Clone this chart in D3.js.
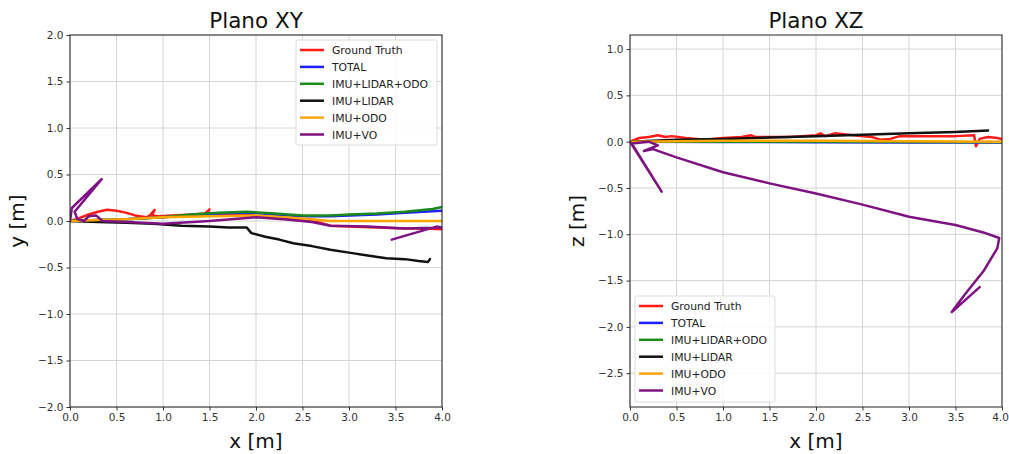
<!DOCTYPE html>
<html><head><meta charset="utf-8">
<script src="https://cdn.jsdelivr.net/npm/d3@7"></script>
<style>
body{margin:0;background:#fff;}
svg{display:block;font-family:"DejaVu Sans",sans-serif;}
</style></head><body>
<svg id="c" width="1009" height="454"></svg>
<script>
// ---- data ----
const seriesNames = ["Ground Truth","TOTAL","IMU+LIDAR+ODO","IMU+LIDAR","IMU+ODO","IMU+VO"];
const seriesColors = ["#ff1a1a","#1f1fff","#1a8a1a","#111111","#ffa500","#7e1283"];
const xTicks = [0,0.5,1,1.5,2,2.5,3,3.5,4];
const yTicksXY = [-2,-1.5,-1,-0.5,0,0.5,1,1.5,2];
const zTicksXZ = [-2.5,-2,-1.5,-1,-0.5,0,0.5,1];

// Plano XY (x, y)
const gtXY = [[0,0],[0.1,0.03],[0.2,0.07],[0.3,0.1],[0.4,0.12],[0.5,0.11],[0.6,0.09],[0.7,0.06],[0.82,0.04],[0.86,0.06],[0.91,0.12],[0.88,0.06],[0.95,0.05],[1.1,0.06],[1.3,0.07],[1.45,0.08],[1.5,0.125],[1.47,0.08],[1.7,0.07],[1.9,0.07],[2.0,0.05],[2.2,0.04],[2.5,0.01],[2.7,-0.02],[2.8,-0.05],[3.0,-0.06],[3.3,-0.07],[3.6,-0.08],[3.8,-0.08],[4.0,-0.09]];
const totalXY = [[0,0],[0.3,0.01],[0.6,0.02],[1.0,0.04],[1.3,0.06],[1.6,0.08],[1.9,0.09],[2.2,0.07],[2.5,0.05],[2.8,0.05],[3.0,0.06],[3.3,0.07],[3.6,0.09],[4.0,0.11]];
const lioXY = [[0,0],[0.3,0.01],[0.6,0.02],[1.0,0.04],[1.3,0.07],[1.6,0.09],[1.9,0.1],[2.2,0.08],[2.5,0.06],[2.8,0.06],[3.0,0.07],[3.3,0.08],[3.6,0.1],[3.9,0.13],[4.0,0.15]];
const lidarXY = [[0,0],[0.3,-0.01],[0.6,-0.02],[0.9,-0.03],[1.2,-0.05],[1.5,-0.06],[1.7,-0.07],[1.9,-0.07],[1.95,-0.13],[2.1,-0.17],[2.25,-0.2],[2.4,-0.24],[2.6,-0.27],[2.8,-0.31],[3.0,-0.34],[3.2,-0.37],[3.4,-0.4],[3.6,-0.41],[3.75,-0.43],[3.85,-0.44],[3.87,-0.41]];
const odoXY = [[0,0],[0.3,0.01],[0.6,0.02],[1.0,0.04],[1.5,0.05],[2.0,0.06],[2.3,0.04],[2.6,0.02],[2.8,0.0],[3.2,0.0],[4.0,0.0]];
const voXY = [[0,0],[0.02,0.14],[0.34,0.45],[0.05,0.1],[0.08,0.02],[0.15,0.0],[0.2,0.05],[0.28,0.06],[0.35,0.0],[0.6,-0.01],[1.0,-0.03],[1.5,0.0],[2.0,0.04],[2.3,0.02],[2.6,-0.01],[2.8,-0.05],[3.2,-0.06],[3.6,-0.08],[4.0,-0.07],[3.94,-0.06],[3.46,-0.2]];

// Plano XZ (x, z)
const gtXZ = [[0,0],[0.1,0.04],[0.2,0.05],[0.3,0.07],[0.38,0.05],[0.45,0.06],[0.6,0.04],[0.8,0.02],[1.0,0.04],[1.2,0.05],[1.3,0.07],[1.35,0.05],[1.5,0.05],[1.7,0.05],[1.85,0.06],[2.0,0.07],[2.05,0.09],[2.1,0.06],[2.2,0.09],[2.4,0.07],[2.6,0.05],[2.7,0.02],[2.8,0.03],[2.9,0.06],[3.2,0.06],[3.5,0.06],[3.7,0.07],[3.72,-0.05],[3.76,0.03],[3.85,0.05],[3.95,0.04],[4.0,0.03]];
const totalXZ = [[0,0],[1.0,-0.003],[2.0,-0.005],[3.0,-0.008],[4.0,-0.01]];
const lioXZ = [[0,0],[1.0,0.0],[2.0,-0.002],[3.0,-0.004],[4.0,-0.005]];
const lidarXZ = [[0,0],[0.5,0.02],[1.0,0.03],[1.5,0.045],[2.0,0.06],[2.5,0.075],[3.0,0.09],[3.5,0.105],[3.85,0.12]];
const odoXZ = [[0,0],[1.0,0.01],[2.0,0.01],[3.0,0.005],[4.0,0.0]];
const voXZ = [[0,0],[0.34,-0.54],[0.02,-0.02],[0.2,0.0],[0.3,-0.04],[0.15,-0.1],[0.25,-0.08],[0.3,-0.1],[0.5,-0.17],[1.0,-0.33],[1.5,-0.45],[2.0,-0.56],[2.5,-0.68],[3.0,-0.81],[3.5,-0.9],[3.8,-0.98],[3.97,-1.04],[3.95,-1.15],[3.8,-1.4],[3.6,-1.65],[3.46,-1.84],[3.76,-1.57]];

// ---- drawing ----
const svg = d3.select("#c");
const fmt = v => (v<0 ? "\u2212" : "") + Math.abs(v).toFixed(1);

function panel(cfg){
  const x = d3.scaleLinear().domain([0,4]).range([cfg.left, cfg.left+372]);
  const y = d3.scaleLinear().domain(cfg.ydom).range([407, 35]);
  const g = svg.append("g");
  // grid
  g.selectAll(".gx").data(xTicks).enter().append("line")
    .attr("x1",d=>x(d)).attr("x2",d=>x(d)).attr("y1",35).attr("y2",407)
    .attr("stroke","#d4d4d4").attr("stroke-width",1);
  g.selectAll(".gy").data(cfg.yticks).enter().append("line")
    .attr("y1",d=>y(d)).attr("y2",d=>y(d)).attr("x1",cfg.left).attr("x2",cfg.left+372)
    .attr("stroke","#d4d4d4").attr("stroke-width",1);
  // lines
  const clipId = "clip"+cfg.left;
  svg.append("clipPath").attr("id",clipId).append("rect")
    .attr("x",cfg.left).attr("y",35).attr("width",372).attr("height",372);
  const line = d3.line().x(d=>x(d[0])).y(d=>y(d[1]));
  const lg = g.append("g").attr("clip-path","url(#"+clipId+")");
  cfg.data.forEach((s,i)=>{
    lg.append("path").attr("d",line(s)).attr("fill","none")
      .attr("stroke",seriesColors[i]).attr("stroke-width",2.5)
      .attr("stroke-linejoin","round").attr("stroke-linecap","round");
  });
  // axes
  const xa = g.append("g").attr("transform","translate(0,407)")
    .call(d3.axisBottom(x).tickValues(xTicks).tickFormat(fmt).tickSize(3.5).tickPadding(3));
  const ya = g.append("g").attr("transform","translate("+cfg.left+",0)")
    .call(d3.axisLeft(y).tickValues(cfg.yticks).tickFormat(fmt).tickSize(3.5).tickPadding(3));
  [xa,ya].forEach(a=>{
    a.select(".domain").remove();
    a.selectAll("text").attr("font-size",10.5).attr("fill","#333").attr("font-family","DejaVu Sans");
    a.selectAll("line").attr("stroke","#333");
  });
  if (cfg.shiftLast) {
    xa.selectAll(".tick text").filter(d=>d===4).attr("dx",-cfg.shiftLast);
  }
  g.append("rect").attr("x",cfg.left).attr("y",35).attr("width",372).attr("height",372)
    .attr("fill","none").attr("stroke","#222").attr("stroke-width",1);
  // labels
  g.append("text").attr("x",cfg.left+186).attr("y",28).attr("text-anchor","middle")
    .attr("font-size",21.5).attr("fill","#111").text(cfg.title);
  g.append("text").attr("x",cfg.left+186).attr("y",448).attr("text-anchor","middle")
    .attr("font-size",20).attr("fill","#111").text("x [m]");
  g.append("text").attr("transform","translate("+(cfg.left-cfg.ylabOff)+",221) rotate(-90)")
    .attr("text-anchor","middle").attr("font-size",20).attr("fill","#111").text(cfg.ylabel);
  // legend
  const L = cfg.legend;
  const lgG = g.append("g");
  lgG.append("rect").attr("x",L.x).attr("y",L.y).attr("width",L.w).attr("height",L.h)
    .attr("fill","rgba(255,255,255,0.85)").attr("stroke","#ddd").attr("rx",2);
  seriesNames.forEach((n,i)=>{
    const yy = L.y+10+i*16.9;
    lgG.append("line").attr("x1",L.x+4).attr("x2",L.x+28).attr("y1",yy).attr("y2",yy)
      .attr("stroke",seriesColors[i]).attr("stroke-width",2.5);
    lgG.append("text").attr("x",L.x+36).attr("y",yy+4).attr("font-size",10.8)
      .attr("fill","#222").text(n);
  });
}

panel({left:70, ydom:[-2,2], yticks:yTicksXY, title:"Plano XY", ylabel:"y [m]", ylabOff:46,
  data:[gtXY,totalXY,lioXY,lidarXY,odoXY,voXY],
  legend:{x:296,y:40,w:141,h:105}});
panel({left:630, ydom:[-2.865,1.152], yticks:zTicksXZ, title:"Plano XZ", ylabel:"z [m]", ylabOff:46,
  data:[gtXZ,totalXZ,lioXZ,lidarXZ,odoXZ,voXZ],
  legend:{x:635,y:296,w:140,h:106}, shiftLast:2});
</script>
</body></html>
